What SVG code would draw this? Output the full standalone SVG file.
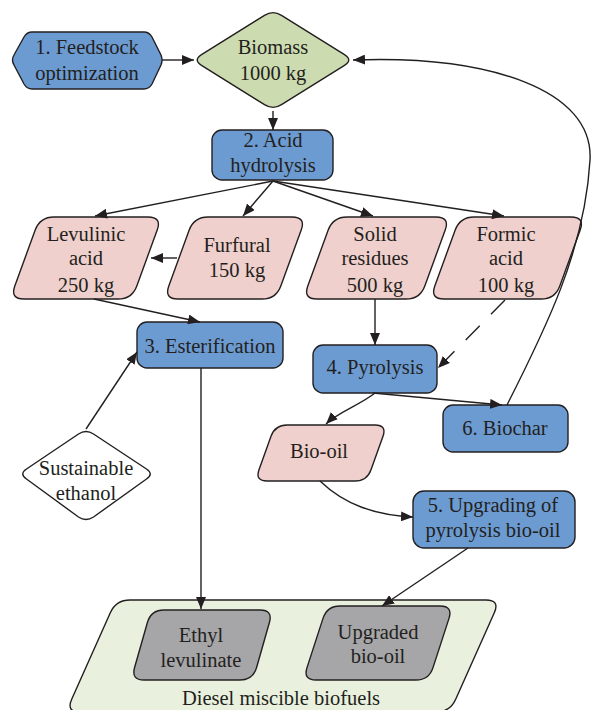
<svg xmlns="http://www.w3.org/2000/svg" width="591" height="710" viewBox="0 0 591 710">
<style>
text{font-family:"Liberation Serif","Times New Roman",serif;font-size:20.5px;fill:#231f20;text-anchor:middle}
.sh{stroke:#231f20;stroke-width:1.4}
.blue{fill:#6c9bd2}
.pink{fill:#f0d0cc}
.gray{fill:#a6a6a8}
.conn path{fill:none;stroke:#231f20;stroke-width:1.4}
</style>
<defs>
<marker id="ah" viewBox="0 0 12 10" refX="12" refY="5" markerWidth="12" markerHeight="10" orient="auto" markerUnits="userSpaceOnUse"><path d="M0,0 L12,5 L0,10 Z" fill="#231f20"/></marker>
</defs>
<g id="container">
<path class="sh" fill="#e9f1de" transform="translate(66,600)" d="M64,0 L420,0 Q434,0 428.3,12.8 L389.7,99.2 Q384,112 370,112 L14,112 Q0,112 5.7,99.2 L44.3,12.8 Q50,0 64,0Z"/>
<text x="281" y="705">Diesel miscible biofuels</text>
</g>
<g id="feedstock">
<path class="sh blue" d="M32,32 L144,32 Q149,32 152,37 L161,55 Q163,60 161,65 L152,84 Q149,89 144,89 L32,89 Q27,89 24,84 L14,65 Q11,60 14,55 L24,37 Q27,32 32,32 Z"/>
<text x="87" y="54">1. Feedstock</text>
<text x="87" y="80">optimization</text>
</g>
<g id="biomass">
<path class="sh" fill="#cddcb0" d="M201.5,54.7 L264.5,15.3 Q273,10 281.5,15.3 L344.5,54.7 Q353,60 344.5,65.3 L281.5,104.7 Q273,110 264.5,104.7 L201.5,65.3 Q193,60 201.5,54.7 Z"/>
<text x="273" y="54">Biomass</text>
<text x="273" y="80">1000 kg</text>
</g>
<g id="acid">
<rect class="sh blue" x="212" y="130" width="121" height="50" rx="10"/>
<text x="273" y="147">2. Acid</text>
<text x="273" y="172">hydrolysis</text>
</g>
<g id="levulinic">
<path class="sh pink" transform="translate(10,217)" d="M44,0 L138,0 Q152,0 147.2,13.1 L126.8,68.9 Q122,82 108,82 L14,82 Q0,82 4.8,68.9 L25.2,13.1 Q30,0 44,0Z"/>
<text x="86" y="241">Levulinic</text>
<text x="86" y="265">acid</text>
<text x="86" y="292">250 kg</text>
</g>
<g id="furfural">
<path class="sh pink" transform="translate(164,217)" d="M44,0 L128,0 Q142,0 137.2,13.1 L116.8,68.9 Q112,82 98,82 L14,82 Q0,82 4.8,68.9 L25.2,13.1 Q30,0 44,0Z"/>
<text x="237" y="252">Furfural</text>
<text x="237" y="277">150 kg</text>
</g>
<g id="solid">
<path class="sh pink" transform="translate(303,217)" d="M44,0 L133,0 Q147,0 142.2,13.1 L121.8,68.9 Q117,82 103,82 L14,82 Q0,82 4.8,68.9 L25.2,13.1 Q30,0 44,0Z"/>
<text x="375" y="241">Solid</text>
<text x="375" y="265">residues</text>
<text x="375" y="292">500 kg</text>
</g>
<g id="formic">
<path class="sh pink" transform="translate(430,217)" d="M44,0 L141,0 Q155,0 150.2,13.1 L129.8,68.9 Q125,82 111,82 L14,82 Q0,82 4.8,68.9 L25.2,13.1 Q30,0 44,0Z"/>
<text x="506" y="241">Formic</text>
<text x="506" y="265">acid</text>
<text x="506" y="292">100 kg</text>
</g>
<g id="esterification">
<rect class="sh blue" x="137" y="322" width="146" height="46" rx="10"/>
<text x="210" y="353">3. Esterification</text>
</g>
<g id="ethanol">
<path class="sh" fill="#ffffff" d="M26.5,469 L78.5,434 Q86,429 93.5,434 L146.5,469 Q154,474 146.5,479 L93.5,517 Q86,522 78.5,517 L26.5,479 Q19,474 26.5,469Z"/>
<text x="86" y="475">Sustainable</text>
<text x="86" y="500">ethanol</text>
</g>
<g id="pyrolysis">
<rect class="sh blue" x="313" y="345" width="124" height="48" rx="10"/>
<text x="375" y="374">4. Pyrolysis</text>
</g>
<g id="biochar">
<rect class="sh blue" x="443" y="405" width="125" height="47" rx="10"/>
<text x="505" y="435">6. Biochar</text>
</g>
<g id="biooil">
<path class="sh pink" transform="translate(255,425)" d="M32,0 L120,0 Q132,0 128,11.3 L116,44.7 Q112,56 100,56 L12,56 Q0,56 4,44.7 L16,11.3 Q20,0 32,0Z"/>
<text x="319" y="458">Bio-oil</text>
</g>
<g id="upgrading">
<rect class="sh blue" x="413" y="491" width="162" height="57" rx="11"/>
<text x="493" y="512">5. Upgrading of</text>
<text x="493" y="537">pyrolysis bio-oil</text>
</g>
<g id="ethyl">
<path class="sh gray" transform="translate(131,610)" d="M33,0 L129,0 Q142,0 138.4,12.5 L125.6,57.5 Q122,70 109,70 L13,70 Q0,70 3.6,57.5 L16.4,12.5 Q20,0 33,0Z"/>
<text x="201" y="642">Ethyl</text>
<text x="201" y="667">levulinate</text>
</g>
<g id="upgraded">
<path class="sh gray" transform="translate(303,606)" d="M37,0 L137,0 Q150,0 146,12.4 L130,61.6 Q126,74 113,74 L13,74 Q0,74 4,61.6 L20,12.4 Q24,0 37,0Z"/>
<text x="378" y="639">Upgraded</text>
<text x="378" y="663">bio-oil</text>
</g>
<g id="connectors" class="conn">
<path d="M162,60 L194,60" marker-end="url(#ah)"/>
<path d="M273,111 L273,130" marker-end="url(#ah)"/>
<path d="M273,181 L95,216" marker-end="url(#ah)"/>
<path d="M273,181 L243,216" marker-end="url(#ah)"/>
<path d="M273,181 L373,216" marker-end="url(#ah)"/>
<path d="M273,181 L504,216" marker-end="url(#ah)"/>
<path d="M177,258 L151,258" marker-end="url(#ah)"/>
<path d="M94,299 L200,322" marker-end="url(#ah)"/>
<path d="M86,429 L137,352" marker-end="url(#ah)"/>
<path d="M201,368 L201,609" marker-end="url(#ah)"/>
<path d="M375,299 L375,345" marker-end="url(#ah)"/>
<path d="M505,300 L438,368" stroke-dasharray="20 16" marker-end="url(#ah)"/>
<path d="M373,393 L502,405" marker-end="url(#ah)"/>
<path d="M375,393 C360,405 338,412 326,424" marker-end="url(#ah)"/>
<path d="M320,481 C345,505 375,515 413,517" marker-end="url(#ah)"/>
<path d="M468,548 L382,606" marker-end="url(#ah)"/>
<path d="M507,405 C545,330 585,250 590,160 C594,90 490,55 353,60" marker-end="url(#ah)"/>
</g>
</svg>
